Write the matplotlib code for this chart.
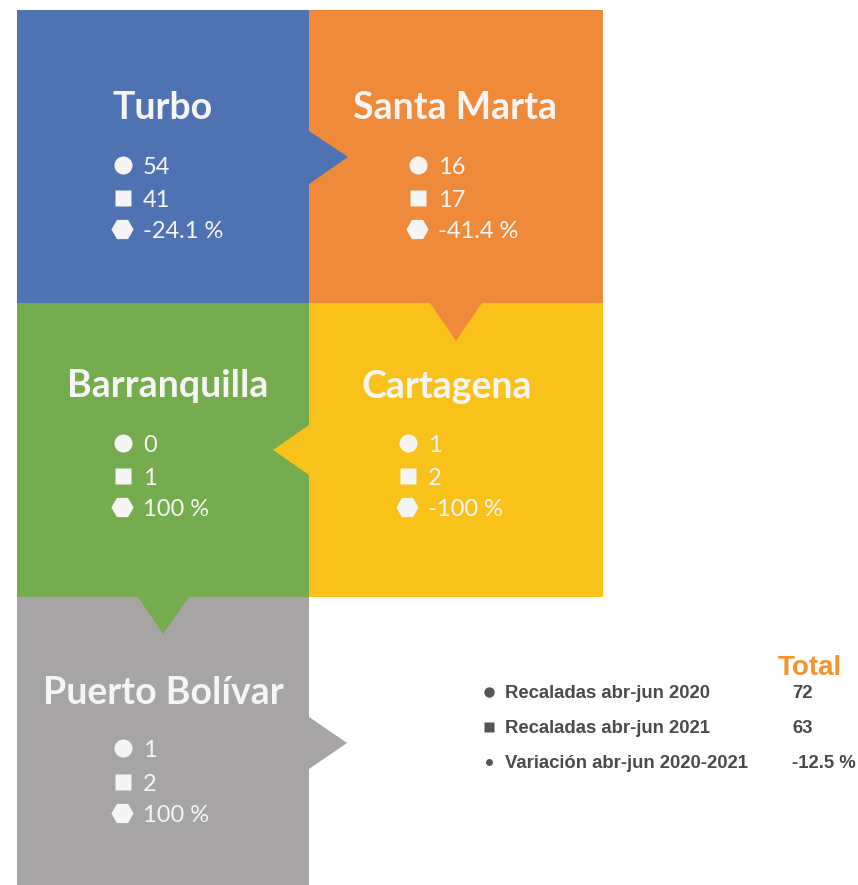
import matplotlib
matplotlib.use('Agg')
import matplotlib.pyplot as plt
from matplotlib.patches import Polygon

# recaladas por puerto, abr-jun
ports = ["Turbo", "Santa Marta", "Barranquilla", "Cartagena", "Puerto Bolívar"]
rec_2020 = [54, 16, 0, 1, 1]
rec_2021 = [41, 17, 1, 2, 2]
variacion = [-24.1, -41.4, 100, -100, 100]

total_labels = ["Recaladas abr-jun 2020", "Recaladas abr-jun 2021", "Variación abr-jun 2020-2021"]
total_values = ["72", "63", "-12.5 %"]

colors = ["#4E72B2", "#EE8A3A", "#75AC4E", "#F8C21B", "#A6A4A5"]

# layout in pixels: box (x0, y0, x1, y1), arrow polygon (coloured like the box it leaves),
# title position, marker x, row y
boxes = [(17, 10, 309, 303), (309, 10, 603, 303), (17, 303, 309, 597),
         (309, 303, 603, 597), (17, 597, 309, 885)]
arrows = [[(309, 131), (348, 157), (309, 184)],   # Turbo -> Santa Marta
          [(430, 303), (456, 341), (482, 303)],   # Santa Marta -> Cartagena
          [(138, 597), (163, 634), (189, 597)],   # Barranquilla -> Puerto Bolivar
          [(309, 425), (273, 450), (309, 475)],   # Cartagena -> Barranquilla
          [(309, 717), (347, 743), (309, 769)]]   # Puerto Bolivar -> right
titles_xy = [(163, 119), (455, 119), (168, 397), (447, 398), (163, 704)]
marker_x = [123, 418, 123, 408, 123]
row_y = [(165, 198, 229), (165, 198, 229), (443, 476, 507), (443, 476, 507), (748, 782, 813)]

fig = plt.figure(figsize=(8.58, 8.85), dpi=100)
ax = fig.add_axes([0, 0, 1, 1])
ax.set_xlim(0, 858)
ax.set_ylim(885, 0)
ax.axis('off')

for i in range(len(ports)):
    x0, y0, x1, y1 = boxes[i]
    ax.add_patch(plt.Rectangle((x0, y0), x1 - x0, y1 - y0, color=colors[i], lw=0, zorder=1))

for i in range(len(ports)):
    ax.add_patch(Polygon(arrows[i], closed=True, color=colors[i], lw=0, zorder=2))

for i in range(len(ports)):
    tx, ty = titles_xy[i]
    ax.text(tx, ty, ports[i], color='#F5F5F5', fontsize=27, fontweight='bold',
            family='Lato', ha='center', va='baseline', zorder=3)
    mx = marker_x[i]
    r1, r2, r3 = row_y[i]
    ax.plot(mx, r1, 'o', ms=13, color='#F5F5F5', mec='none', zorder=3)
    ax.plot(mx, r2, 's', ms=12, color='#F5F5F5', mec='none', zorder=3)
    ax.plot(mx - 1, r3, 'H', ms=16, color='#F5F5F5', mec='none', zorder=3)
    vals = [str(rec_2020[i]), str(rec_2021[i]), f"{variacion[i]:g} %"]
    for ry, v in zip(row_y[i], vals):
        ax.text(mx + 20, ry + 9, v, color='#F5F5F5', fontsize=17, family='Lato',
                ha='left', va='baseline', zorder=3)

# total block
ax.text(810, 675, "Total", color='#F7922D', fontsize=20, fontweight='bold',
        family='Liberation Sans', ha='center', va='baseline')
leg_y = [692, 727, 762]
leg_marks = [('o', 7.5), ('s', 6.5), ('o', 5)]
for y, lab, val, (m, s) in zip(leg_y, total_labels, total_values, leg_marks):
    ax.plot(489, y, m, ms=s, color='#555557', mec='none')
    ax.text(505, y + 6, lab, color='#4A4A4C', fontsize=13.3, fontweight='bold',
            family='Liberation Sans', ha='left', va='baseline')
    ax.text(792, y + 6, val, color='#4A4A4C', fontsize=13.3, fontweight='bold',
            family='Liberation Sans', ha='left', va='baseline')

fig.savefig('out.png', dpi=100)
